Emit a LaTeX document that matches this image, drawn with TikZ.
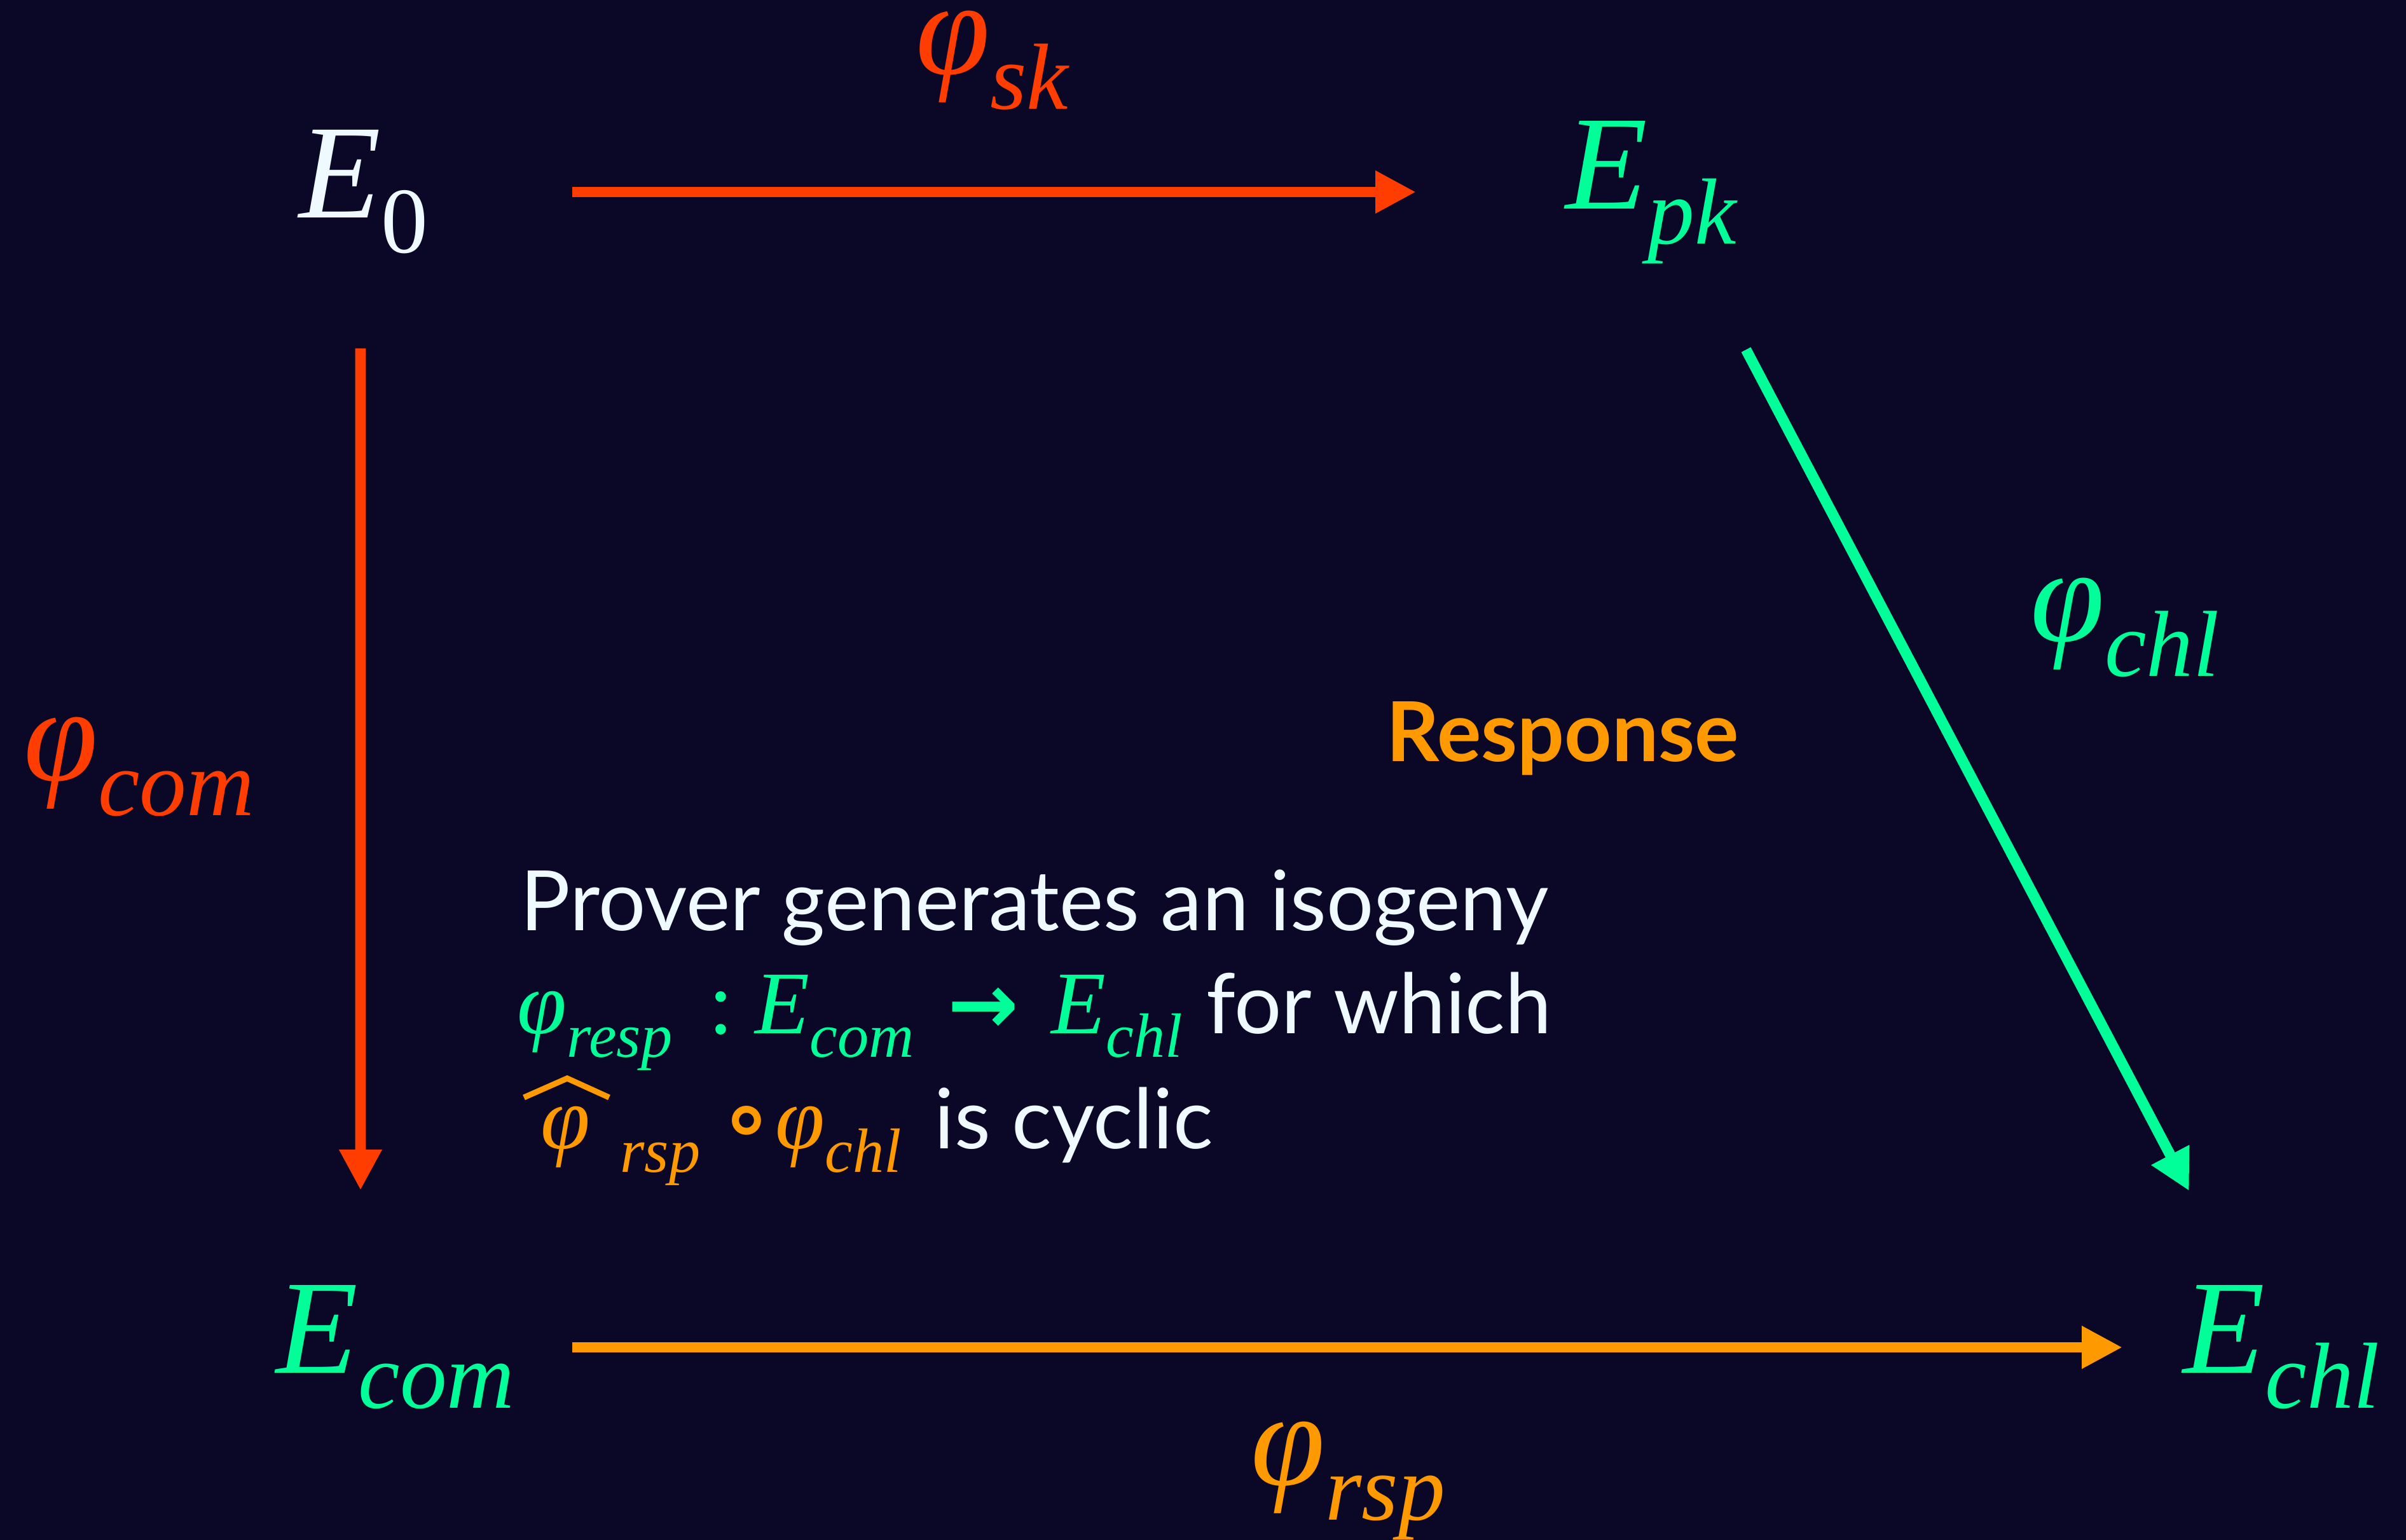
\documentclass[tikz,border=0pt]{standalone}
\usepackage{fontspec}
\setmainfont{Lato}
\newfontfamily\tms{Liberation Serif}
\newfontfamily\djv{DejaVu Sans}
\usetikzlibrary{arrows.meta}
\definecolor{bg}{HTML}{0B0827}
\definecolor{cred}{HTML}{FF3D00}
\definecolor{cgreen}{HTML}{00FF99}
\definecolor{corange}{HTML}{FF9900}
\definecolor{cwhite}{HTML}{EEFAFF}
% #1 main size, #2 subscript size, #3 base, #4 subscript
\newcommand\Mv[4]{{\fontsize{#1}{#1}\selectfont\tms\itshape #3\raisebox{-0.26em}{\fontsize{#2}{#2}\selectfont #4}}}
\newcommand\Sb[1]{{\fontsize{40}{40}\selectfont\tms\itshape\raisebox{-0.26em}{\fontsize{28}{28}\selectfont #1}}}
\newcommand\Bx[2]{\makebox[#1][l]{#2}}
\begin{document}
\begin{tikzpicture}[
  big/.style={inner sep=0pt, anchor=base west},
  body/.style={inner sep=0pt, anchor=base west, text=cwhite, font=\fontsize{37.3}{44}\selectfont},
  arr/.style={line width=0.167cm, -{Triangle[length=0.64cm,width=0.63cm]}},
]
\fill[bg] (0,0) rectangle (37.84,24.22);
\useasboundingbox (0,0) rectangle (37.84,24.22);
% curves
\node[big,text=cwhite] (E0) at (4.70,20.79) {\Mv{60}{42}{E}{\upshape 0}};
\node[big,text=cgreen] (Epk) at (24.62,20.93) {\Mv{60}{42}{E}{pk}};
\node[big,text=cgreen] (Ecom) at (4.34,2.62) {\Mv{60}{42}{E}{com}};
\node[big,text=cgreen] (Echl) at (34.33,2.62) {\Mv{60}{42}{E}{chl}};
% isogeny labels
\node[big,text=cred] (lsk) at (14.40,23.05) {\Mv{60}{42}{φ}{sk}};
\node[big,text=cred] (lcom) at (0.37,11.94) {\Mv{60}{42}{φ}{com}};
\node[big,text=cgreen] (lchl) at (31.93,14.13) {\Mv{60}{42}{φ}{chl}};
\node[big,text=corange] (lrsp) at (19.67,0.86) {\Mv{60}{42}{φ}{rsp}};
% response
\node[inner sep=0pt, anchor=base west, text=corange, font=\fontsize{37}{44}\selectfont\bfseries] (resp) at (21.80,12.24) {Response};
% explanation
\node[body] (t1) at (8.18,9.58) {Prover generates an isogeny};
\node[body] (t2) at (8.13,7.96) {\textcolor{cgreen}{\Bx{2.97cm}{\Mv{40}{28}{φ}{resp}}\Bx{0.77cm}{\hspace{0.04cm}{\fontsize{40}{40}\selectfont\tms :}}\Bx{3.03cm}{\Mv{40}{28}{E}{com}}\Bx{1.63cm}{{\fontsize{38}{40}\selectfont\djv\bfseries →}}\Bx{2.44cm}{\Mv{40}{28}{E}{chl}}}for which};
\node[body] (t3) at (8.20,6.15) {\textcolor{corange}{\hspace{0.30cm}\Bx{1.25cm}{{\fontsize{40}{40}\selectfont\tms\itshape φ}}\Bx{1.55cm}{\Sb{rsp}}\Bx{0.89cm}{{\fontsize{40}{40}\selectfont\djv\bfseries ∘}}\Bx{2.50cm}{\Mv{40}{28}{φ}{chl}}}is cyclic};
% hat over phi
\draw[corange, line width=0.09cm, line join=miter] ([shift={(0.04,0.81)}]t3.base west) -- ([shift={(0.72,1.11)}]t3.base west) -- ([shift={(1.38,0.81)}]t3.base west);
% arrows
\draw[arr,cred] ([shift={(4.30,0.41)}]E0.base west) -- ([shift={(-2.35,0.27)}]Epk.base west);
\draw[arr,cred] ([shift={(0.97,-2.05)}]E0.base west) -- ([shift={(1.33,2.88)}]Ecom.base west);
\draw[arr,cgreen] ([shift={(2.84,-2.21)}]Epk.base west) -- ([shift={(0.10,2.87)}]Echl.base west);
\draw[arr,corange] ([shift={(4.66,0.41)}]Ecom.base west) -- ([shift={(-0.95,0.41)}]Echl.base west);
\end{tikzpicture}
\end{document}
